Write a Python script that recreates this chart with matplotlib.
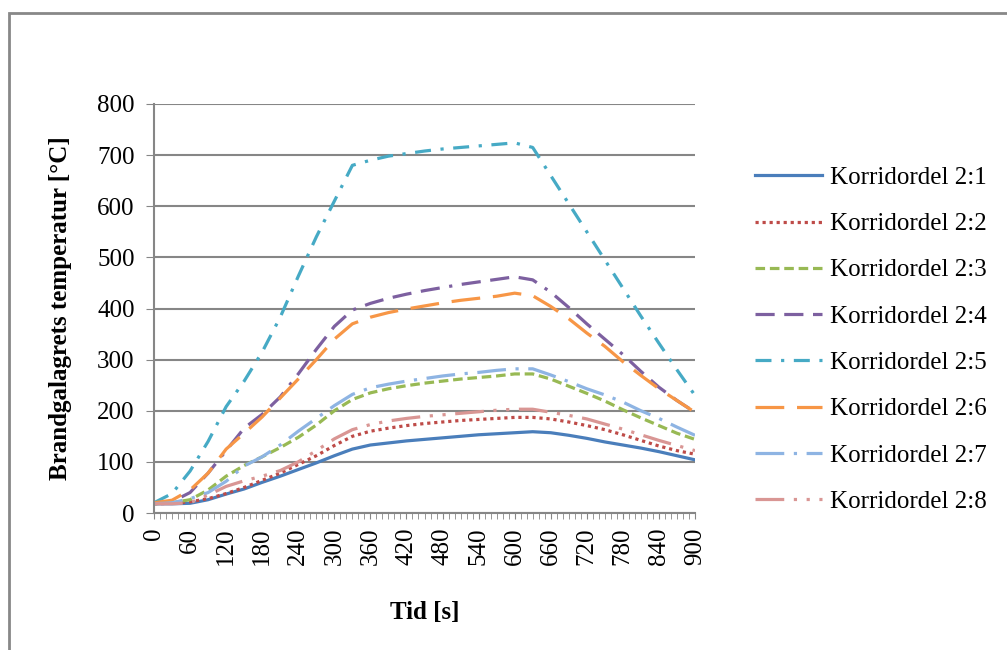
import numpy as np
import matplotlib.pyplot as plt
from matplotlib.patches import Rectangle
from matplotlib.ticker import MultipleLocator

tid = np.arange(0, 901, 30)  # s

k21 = [18, 18, 19, 26, 37, 47, 60, 72, 85, 98, 112, 125, 133, 137, 141, 144, 147, 150, 153, 155, 157, 159,
       157, 152, 146, 139, 133, 127, 120, 112, 104]
k22 = [18, 19, 22, 28, 38, 50, 64, 78, 95, 112, 132, 150, 160, 166, 171, 175, 178, 181, 183, 185, 187, 187,
       184, 178, 171, 163, 153, 142, 131, 122, 115]
k23 = [18, 20, 26, 45, 72, 93, 110, 128, 148, 172, 200, 222, 235, 243, 249, 254, 258, 262, 265, 268, 272, 272,
       262, 248, 234, 219, 202, 186, 171, 156, 144]
k24 = [20, 22, 40, 78, 122, 166, 193, 227, 272, 320, 365, 397, 410, 420, 428, 435, 441, 447, 452, 457, 462, 456,
       432, 402, 370, 340, 310, 277, 246, 220, 197]
k25 = [20, 38, 82, 140, 208, 258, 315, 383, 463, 540, 610, 680, 690, 698, 703, 708, 712, 715, 718, 721, 724, 715,
       660, 605, 550, 495, 440, 385, 332, 280, 230]
k26 = [20, 25, 45, 78, 125, 156, 188, 225, 262, 300, 340, 370, 383, 392, 399, 405, 411, 416, 420, 424, 430, 425,
       404, 380, 352, 326, 296, 269, 243, 220, 197]
k27 = [18, 20, 28, 40, 62, 92, 110, 133, 160, 185, 210, 232, 245, 252, 258, 263, 268, 272, 275, 279, 282, 282,
       270, 257, 243, 231, 217, 200, 185, 168, 152]
k28 = [18, 18, 20, 35, 52, 63, 72, 83, 100, 122, 145, 163, 173, 180, 185, 189, 192, 195, 198, 201, 203, 203,
       197, 191, 184, 174, 164, 153, 142, 132, 122]

namn = ['Korridordel 2:%d' % i for i in range(1, 9)]
serier = [k21, k22, k23, k24, k25, k26, k27, k28]
farger = ['#4a7ebb', '#be4b48', '#98b954', '#7d60a0', '#46aac5', '#f79646', '#8eb4e3', '#d99694']
stilar = ['-', (0, (1, 1.2)), (0, (3, 1.5)), (0, (6, 3, 6, 3, 6, 3, 1, 3)),
          (0, (5, 3, 1, 3)), (0, (9, 4)), (0, (9, 3, 1, 3)), (0, (9, 3, 1, 3, 1, 3))]

plt.rcParams['font.family'] = 'Liberation Serif'

fig = plt.figure(figsize=(10.07, 6.5), dpi=100)
fig.patches.append(Rectangle((9 / 1007, -0.1), 1.2, 1 - 13 / 650 + 0.1, transform=fig.transFigure,
                             fill=False, edgecolor='#888888', linewidth=2))
ax = fig.add_axes([154 / 1007, 1 - 513 / 650, (695 - 154) / 1007, (513 - 104) / 650])

for y, n, c, s in zip(serier, namn, farger, stilar):
    ax.plot(tid, y, color=c, linestyle=s, linewidth=2.3, label=n)

ax.set_xlim(0, 900)
ax.set_ylim(0, 800)
ax.set_xticks(np.arange(0, 901, 60))
ax.xaxis.set_minor_locator(MultipleLocator(10))
ax.tick_params(axis='x', which='both', labelrotation=90, length=4.5, color='#868686', labelsize=18, pad=6)
ax.set_yticks(np.arange(0, 801, 100))
ax.tick_params(axis='y', length=6, color='#868686', labelsize=18, pad=8)
ax.grid(axis='y', color='#868686', linewidth=1.5)
ax.set_axisbelow(True)
for side in ['top', 'right']:
    ax.spines[side].set_visible(False)
for side in ['left', 'bottom']:
    ax.spines[side].set_color('#868686')
    ax.spines[side].set_linewidth(1.5)

ax.set_xlabel('Tid [s]', fontsize=18, fontweight='bold', labelpad=26)
ax.set_ylabel('Brandgalagrets temperatur [°C]', fontsize=18, fontweight='bold', labelpad=18)

ax.legend(loc='upper left', bbox_to_anchor=(732 / 1007, 1 - 144 / 650), bbox_transform=fig.transFigure,
          frameon=False, fontsize=18, handlelength=2.7, handletextpad=0.3, labelspacing=0.95)

fig.savefig('out.png', dpi=100)
